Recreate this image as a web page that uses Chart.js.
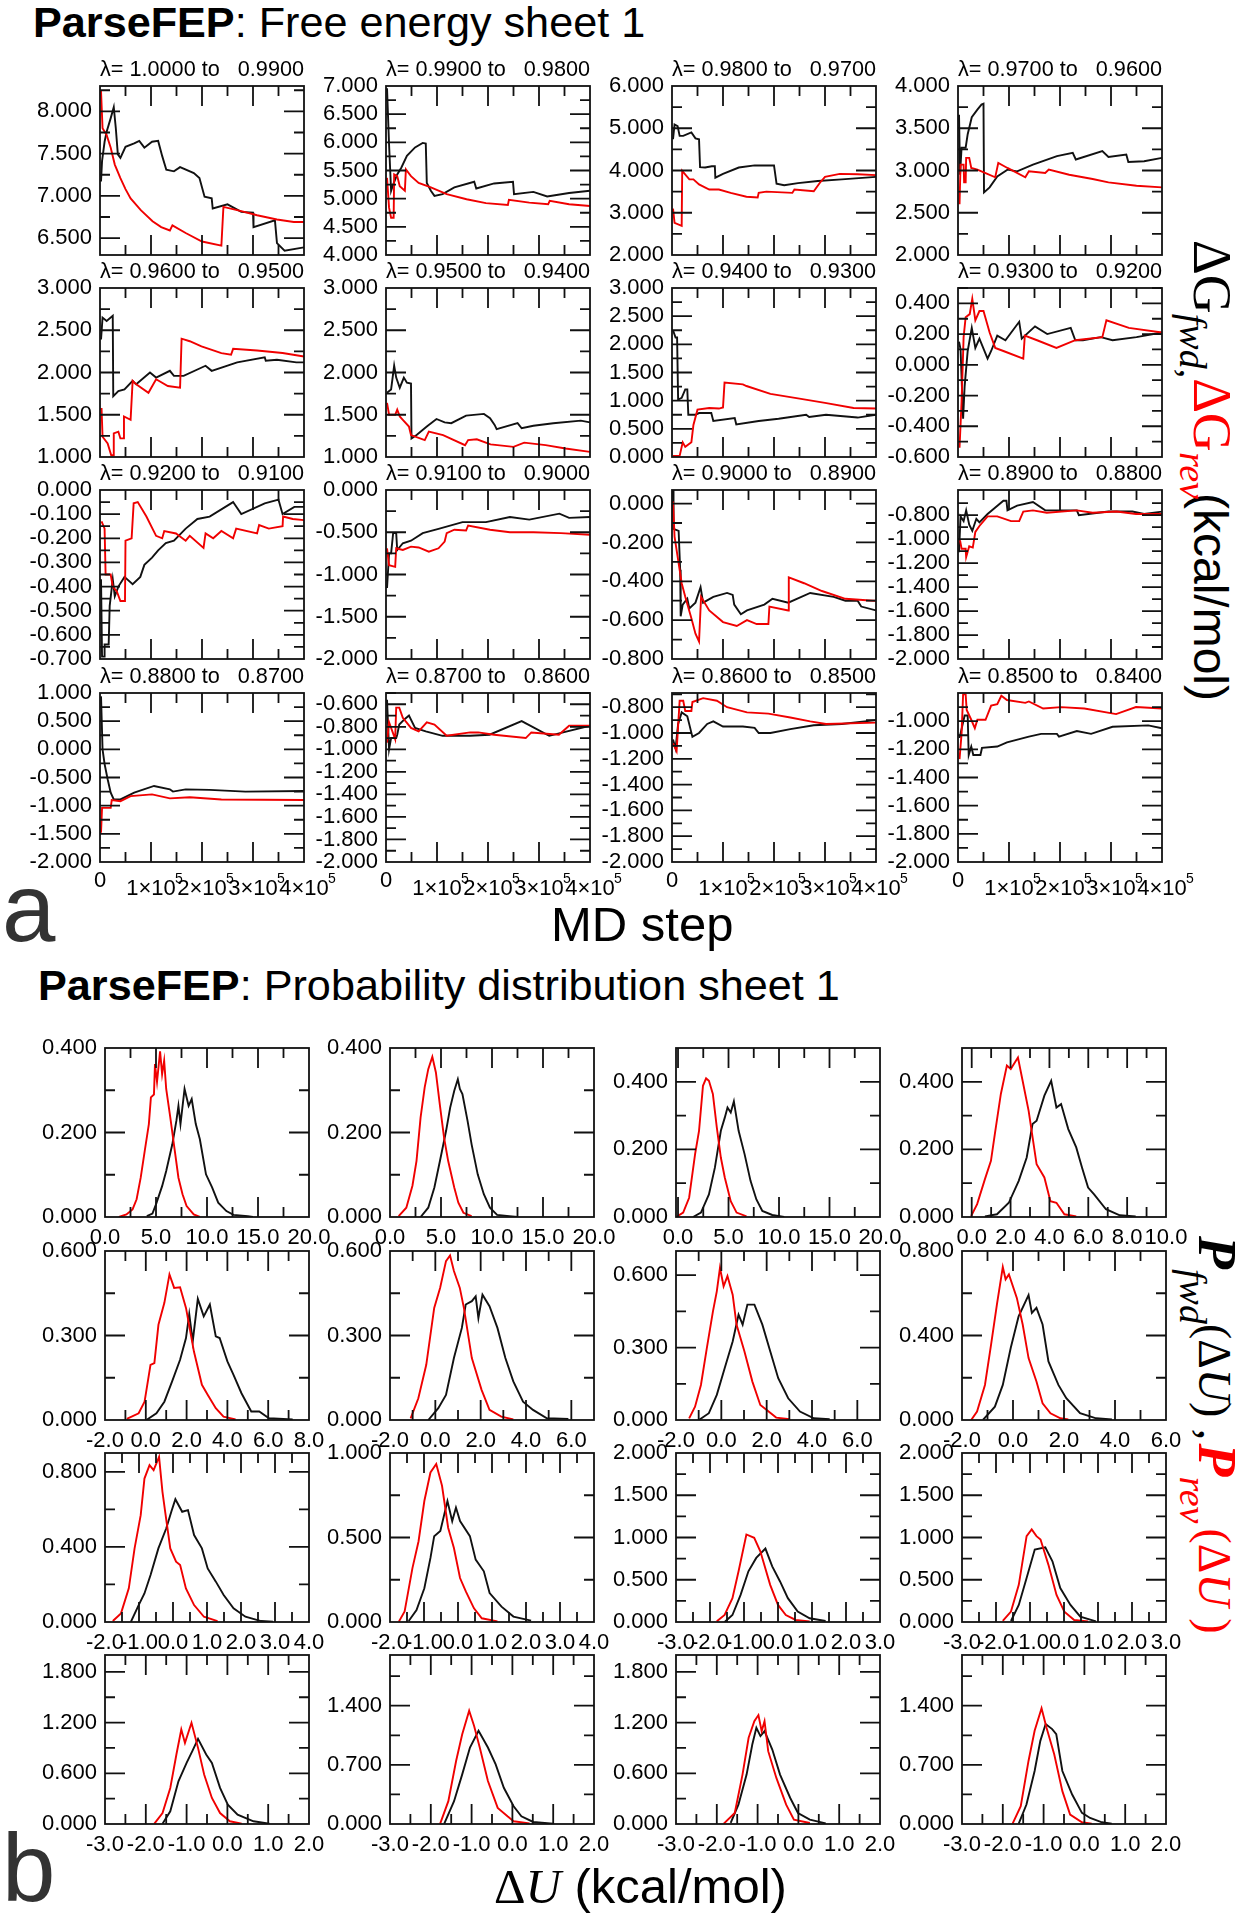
<!DOCTYPE html>
<html>
<head>
<meta charset="utf-8">
<title>ParseFEP sheets</title>
<script src="https://cdn.jsdelivr.net/npm/chart.js@4/dist/chart.umd.min.js"></script>
<style>
  html, body { margin: 0; padding: 0; background: #fff; }
  #page { position: relative; width: 1243px; height: 1920px; overflow: hidden; font-family: "Liberation Sans", sans-serif; color: #000; }
  #page canvas { position: absolute; }
  .txt { position: absolute; white-space: pre; line-height: 1; }
  .rot { transform-origin: 0 0; transform: rotate(90deg); }
  .serif { font-family: "Liberation Serif", serif; }
  .red { color: #f00; }
  .sub { font-size: 38px; position: relative; top: 14px; font-family: "Liberation Serif", serif; font-style: italic; }
</style>
</head>
<body>
<div id="page">
  <div class="txt" style="left:33px;top:1px;font-size:43.2px"><b>ParseFEP</b>: Free energy sheet 1</div>
  <div class="txt" style="left:38px;top:964px;font-size:43.2px"><b>ParseFEP</b>: Probability distribution sheet 1</div>
  <div class="txt" style="left:2px;top:860px;font-size:96px;color:#333">a</div>
  <div class="txt" style="left:2px;top:1820px;font-size:96px;color:#333">b</div>
  <div class="txt" style="left:551px;top:900px;font-size:49px">MD step</div>
  <div class="txt" style="left:494px;top:1862px;font-size:49px"><span class="serif">Δ<i>U</i></span> (kcal/mol)</div>

  <div class="txt rot" style="left:1240px;top:240px;font-size:54px"><span class="serif">ΔG</span><span class="sub">fwd<span style="font-style:normal">,</span></span><span class="serif red">ΔG</span><span class="sub red">rev</span><span style="font-size:48px;margin-left:-6px">(kcal/mol)</span></div>
  <div class="txt rot" style="left:1245px;top:1236px;font-size:54px"><span class="serif"><b><i>P</i></b></span><span class="sub" style="top:19px">fwd</span><span class="serif" style="font-size:46px">(Δ<i>U</i>) ,</span><span class="serif red" style="margin-left:3px"><b><i>P</i></b></span><span class="sub red" style="top:19px">rev</span><span class="serif red" style="font-size:46px;margin-left:5px">(Δ<i>U</i> )</span></div>
</div>

<script>
// Sheet a: free energy, x in units of 1e5 MD steps, y in kcal/mol
const feTitles = ["1.0000 to   0.9900", "0.9900 to   0.9800", "0.9800 to   0.9700", "0.9700 to   0.9600",
  "0.9600 to   0.9500", "0.9500 to   0.9400", "0.9400 to   0.9300", "0.9300 to   0.9200",
  "0.9200 to   0.9100", "0.9100 to   0.9000", "0.9000 to   0.8900", "0.8900 to   0.8800",
  "0.8800 to   0.8700", "0.8700 to   0.8600", "0.8600 to   0.8500", "0.8500 to   0.8400"];
const feXTicks = [0, 1e5, 2e5, 3e5, 4e5];
const feYMin = [6.3, 4, 2, 2, 1, 1, 0, -0.6, -0.7, -2, -0.8, -2, -2, -2, -2, -2];
const feYMax = [8.3, 7, 6, 4, 3, 3, 3, 0.5, 0, 0, 0.07, -0.59, 1, -0.5, -0.69, -0.8];
const feYTicks = [
  [6.5, 7, 7.5, 8], [4, 4.5, 5, 5.5, 6, 6.5, 7], [2, 3, 4, 5, 6], [2, 2.5, 3, 3.5, 4],
  [1, 1.5, 2, 2.5, 3], [1, 1.5, 2, 2.5, 3], [0, 0.5, 1, 1.5, 2, 2.5, 3], [-0.6, -0.4, -0.2, 0, 0.2, 0.4],
  [-0.7, -0.6, -0.5, -0.4, -0.3, -0.2, -0.1, 0], [-2, -1.5, -1, -0.5, 0], [-0.8, -0.6, -0.4, -0.2, 0], [-2, -1.8, -1.6, -1.4, -1.2, -1, -0.8],
  [-2, -1.5, -1, -0.5, 0, 0.5, 1], [-2, -1.8, -1.6, -1.4, -1.2, -1, -0.8, -0.6], [-2, -1.8, -1.6, -1.4, -1.2, -1, -0.8], [-2, -1.8, -1.6, -1.4, -1.2, -1]
];

const feFwd01 = [[.02,7.17],[.04,7.41],[.09,7.64],[.13,7.76],[.21,7.92],[.27,8.05],[.31,7.8],[.35,7.49],[.4,7.45],[.5,7.58],[.67,7.62],[.77,7.65],[.87,7.57],[1.02,7.64],[1.14,7.65],[1.22,7.47],[1.3,7.31],[1.45,7.29],[1.57,7.34],[1.84,7.27],[1.95,7.21],[2.05,6.99],[2.19,6.97],[2.21,6.85],[2.5,6.9],[2.77,6.81],[3,6.8],[3.01,6.63],[3.43,6.71],[3.47,6.44],[3.62,6.35],[4,6.39]];
const feRev01 = [[.02,8.24],[.05,7.8],[.13,7.72],[.21,7.57],[.29,7.37],[.4,7.21],[.5,7.08],[.6,6.97],[.8,6.83],[1.03,6.7],[1.2,6.63],[1.37,6.59],[1.42,6.65],[1.68,6.56],[2,6.46],[2.38,6.41],[2.42,6.87],[2.77,6.82],[3.08,6.77],[3.47,6.72],[3.8,6.69],[4,6.69]];
const feFwd02 = [[.02,6.96],[.06,5.96],[.1,5.14],[.14,5.25],[.22,5.43],[.3,5.55],[.41,5.76],[.57,5.91],[.72,5.99],[.78,5.98],[.8,5.28],[.88,5.14],[.95,5.05],[1.11,5.08],[1.34,5.2],[1.73,5.3],[1.77,5.18],[2.12,5.27],[2.49,5.3],[2.51,5.08],[2.89,5.12],[3.16,5.04],[3.59,5.1],[4,5.14]];
const feRev02 = [[.02,5.37],[.06,4.84],[.1,4.66],[.15,4.66],[.16,5.43],[.22,5.4],[.27,5.22],[.37,5.14],[.39,5.52],[.49,5.4],[.64,5.28],[.88,5.2],[1.19,5.08],[1.58,4.99],[1.96,4.92],[2.39,4.89],[2.41,4.98],[2.81,4.93],[3.18,4.9],[3.21,4.96],[3.59,4.9],[4,4.87]];
const feFwd03 = [[.02,4.74],[.05,5.09],[.11,5.05],[.15,4.82],[.22,4.82],[.38,4.9],[.46,4.76],[.53,4.74],[.55,4.08],[.65,4.07],[.78,4.1],[.84,4.1],[.85,3.83],[1,3.92],[1.31,4.07],[1.62,4.12],[2,4.12],[2.05,3.69],[2.2,3.65],[2.47,3.7],[2.86,3.75],[3.33,3.79],[4,3.85]];
const feRev03 = [[.02,3.1],[.05,2.76],[.19,2.69],[.2,3.99],[.34,3.79],[.42,3.79],[.53,3.67],[.73,3.55],[.92,3.55],[1.15,3.47],[1.46,3.38],[1.68,3.36],[1.7,3.47],[1.85,3.5],[2.36,3.47],[2.4,3.55],[2.78,3.51],[2.9,3.71],[3,3.85],[3.29,3.92],[3.64,3.91],[4,3.89]];
const feFwd04 = [[.02,3.66],[.04,2.95],[.07,3.27],[.15,3.27],[.19,3.43],[.27,3.63],[.38,3.72],[.46,3.78],[.5,3.79],[.51,2.74],[.62,2.8],[.77,2.93],[.97,3.01],[1.16,2.99],[1.47,3.07],[1.94,3.17],[2.25,3.21],[2.31,3.13],[2.83,3.23],[2.95,3.16],[3.3,3.19],[3.34,3.1],[3.65,3.11],[4,3.15]];
const feRev04 = [[.03,2.6],[.05,3.07],[.11,3.07],[.12,2.86],[.15,2.86],[.16,3.15],[.22,3.15],[.26,3.03],[.38,3.01],[.54,2.97],[.73,2.92],[.79,3.09],[.97,3.03],[1.32,2.92],[1.39,2.99],[1.71,2.97],[1.78,3.01],[2.18,2.95],[2.64,2.9],[2.95,2.86],[3.5,2.82],[4,2.8]];
const feFwd05 = [[.02,2.39],[.05,2.65],[.13,2.61],[.25,2.67],[.26,1.72],[.36,1.78],[.48,1.8],[.64,1.9],[.71,1.86],[.98,2],[1.1,1.94],[1.37,2.02],[1.45,1.96],[1.64,1.96],[2.07,2.08],[2.19,2.02],[2.69,2.12],[3.23,2.18],[3.25,2.14],[3.47,2.15],[3.85,2.12],[4,2.12]];
const feRev05 = [[.03,1.58],[.05,1.24],[.15,1.16],[.22,1.02],[.26,1.02],[.27,1.28],[.36,1.3],[.4,1.22],[.46,1.22],[.47,1.48],[.6,1.44],[.64,1.9],[.71,1.86],[.95,1.76],[1.1,1.92],[1.33,1.84],[1.57,1.82],[1.6,2.4],[1.76,2.37],[1.99,2.31],[2.38,2.23],[2.57,2.21],[2.61,2.28],[3.08,2.26],[3.58,2.23],[4,2.19]];
const feFwd06 = [[.02,1.76],[.1,1.8],[.16,2.08],[.2,1.94],[.27,1.82],[.35,1.94],[.41,1.88],[.49,1.87],[.5,1.22],[.6,1.26],[.8,1.36],[.99,1.45],[1.15,1.41],[1.28,1.4],[1.57,1.49],[1.92,1.51],[2.04,1.46],[2.13,1.38],[2.17,1.33],[2.58,1.4],[2.66,1.34],[2.89,1.37],[3.28,1.4],[3.82,1.43],[4,1.41]];
const feRev06 = [[.02,1.64],[.06,1.5],[.18,1.5],[.22,1.56],[.27,1.48],[.33,1.44],[.45,1.36],[.49,1.26],[.76,1.2],[.84,1.3],[1.12,1.26],[1.55,1.14],[1.61,1.2],[1.78,1.21],[2.05,1.15],[2.5,1.12],[2.71,1.17],[3.13,1.14],[3.52,1.1],[4,1.06]];
const feFwd07 = [[.02,2.25],[.07,2.12],[.1,2.12],[.12,1.02],[.19,1.05],[.26,1.2],[.3,1.2],[.32,.75],[.46,.75],[.53,.78],[.77,.78],[.81,.64],[1.23,.69],[1.26,.58],[1.7,.64],[2.09,.68],[2.63,.75],[2.69,.71],[3.02,.75],[3.64,.7],[4,.75]];
const feRev07 = [[.02,.02],[.15,.02],[.21,.26],[.26,.18],[.38,.26],[.42,.57],[.5,.84],[.73,.87],[.92,.86],[1,.88],[1.03,1.32],[1.39,1.29],[1.46,1.26],[1.93,1.12],[2.47,1.04],[3,.96],[3.56,.87],[4,.86]];
const feFwd08 = [[.02,.15],[.05,.1],[.1,-.35],[.13,-.14],[.19,.09],[.27,.24],[.34,.11],[.42,.17],[.58,.04],[.65,.09],[.77,.19],[.93,.16],[1.2,.28],[1.25,.17],[1.51,.25],[1.75,.2],[2.21,.24],[2.3,.16],[2.45,.16],[2.8,.18],[3.03,.16],[3.5,.18],[4,.21]];
const feRev08 = [[.03,-.54],[.07,-.24],[.11,.18],[.15,.31],[.23,.33],[.28,.43],[.34,.29],[.42,.35],[.5,.35],[.62,.21],[.73,.11],[.89,.09],[1.28,.04],[1.31,.19],[1.55,.16],[1.93,.11],[2.3,.16],[2.83,.18],[2.91,.29],[3.35,.24],[4,.21]];
const feFwd09 = [[.02,-.37],[.04,-.69],[.09,-.69],[.09,-.64],[.17,-.64],[.19,-.48],[.25,-.37],[.29,-.44],[.36,-.4],[.48,-.36],[.64,-.39],[.79,-.36],[.87,-.31],[1.02,-.28],[1.14,-.25],[1.29,-.22],[1.45,-.21],[1.68,-.16],[1.91,-.12],[2.15,-.11],[2.61,-.05],[2.77,-.1],[3.23,-.055],[3.5,-.04],[3.58,-.1],[3.81,-.07],[4,-.07]];
const feRev09 = [[.03,-.13],[.09,-.16],[.11,-.35],[.21,-.35],[.25,-.4],[.33,-.42],[.4,-.46],[.49,-.46],[.5,-.21],[.62,-.2],[.66,-.055],[.74,-.05],[.91,-.11],[1.1,-.19],[1.22,-.2],[1.26,-.17],[1.49,-.18],[1.68,-.21],[1.76,-.19],[2.03,-.24],[2.07,-.18],[2.22,-.2],[2.38,-.17],[2.61,-.2],[2.67,-.16],[3.08,-.18],[3.12,-.145],[3.31,-.16],[3.58,-.15],[3.59,-.11],[3.78,-.12],[4,-.125]];
const feFwd10 = [[.02,-1.16],[.06,-.75],[.1,-.75],[.14,-.51],[.2,-.51],[.22,-.71],[.33,-.63],[.49,-.6],[.72,-.51],[1.03,-.46],[1.5,-.38],[1.96,-.38],[2.43,-.32],[2.81,-.35],[3.4,-.28],[3.59,-.33],[4,-.32]];
const feRev10 = [[.02,-.69],[.06,-.89],[.18,-.91],[.2,-.69],[.33,-.71],[.49,-.67],[.64,-.68],[.84,-.73],[1.03,-.69],[1.15,-.61],[1.19,-.51],[1.34,-.47],[1.57,-.48],[1.61,-.42],[2.04,-.47],[2.43,-.5],[2.89,-.5],[3.43,-.51],[4,-.53]];
const feFwd11 = [[.02,.07],[.03,-.13],[.13,-.14],[.16,-.34],[.17,-.58],[.21,-.52],[.3,-.49],[.34,-.54],[.46,-.51],[.56,-.43],[.61,-.51],[.81,-.48],[1.08,-.46],[1.19,-.47],[1.22,-.52],[1.35,-.57],[1.47,-.55],[1.81,-.52],[1.97,-.49],[2.28,-.51],[2.71,-.46],[3.17,-.48],[3.4,-.5],[3.64,-.5],[3.71,-.53],[4,-.55]];
const feRev11 = [[.02,.01],[.05,-.17],[.12,-.29],[.19,-.41],[.26,-.48],[.38,-.59],[.46,-.67],[.53,-.71],[.57,-.48],[.73,-.55],[1,-.61],[1.27,-.63],[1.47,-.6],[1.66,-.62],[1.89,-.62],[1.91,-.53],[2.28,-.55],[2.29,-.38],[2.59,-.41],[2.94,-.45],[3.4,-.49],[3.95,-.5],[4,-.5]];
const feFwd12 = [[.02,-1.11],[.05,-.81],[.11,-.85],[.16,-.76],[.22,-.88],[.28,-.93],[.36,-.83],[.42,-.86],[.58,-.79],[.89,-.68],[.95,-.68],[.97,-.76],[1.16,-.72],[1.47,-.69],[1.71,-.76],[1.95,-.76],[2.33,-.76],[2.37,-.8],[2.95,-.77],[3.42,-.77],[3.65,-.79],[4,-.77]];
const feRev12 = [[.04,-1.01],[.07,-1.08],[.15,-1.08],[.16,-1.15],[.22,-1.06],[.29,-1.07],[.34,-.94],[.42,-.89],[.58,-.81],[.77,-.81],[1.04,-.85],[1.2,-.85],[1.28,-.77],[1.47,-.76],[1.74,-.78],[2.33,-.76],[2.64,-.78],[3.11,-.77],[3.49,-.79],[4,-.79]];
const feFwd13 = [[.02,.94],[.05,0],[.09,-.26],[.15,-.53],[.21,-.77],[.27,-.89],[.4,-.89],[.67,-.77],[1.06,-.65],[1.37,-.71],[1.43,-.75],[1.68,-.71],[2.15,-.72],[2.85,-.75],[4,-.74]];
const feRev13 = [[.02,-1.48],[.04,-1.04],[.21,-1.04],[.23,-.9],[.4,-.92],[.6,-.83],[1.02,-.8],[1.37,-.87],[1.76,-.85],[2.38,-.89],[4,-.9]];
const feFwd14 = [[.02,-.56],[.06,-1],[.1,-.9],[.2,-.9],[.22,-.87],[.26,-.78],[.37,-.73],[.45,-.7],[.57,-.81],[.78,-.84],[1.11,-.88],[1.65,-.88],[2.03,-.87],[2.66,-.75],[3.2,-.88],[4,-.79]];
const feRev14 = [[.02,-.94],[.06,-.76],[.18,-.91],[.2,-.63],[.26,-.63],[.33,-.72],[.49,-.81],[.64,-.84],[.8,-.76],[.95,-.78],[1.19,-.88],[1.65,-.85],[1.81,-.85],[2.12,-.87],[2.74,-.9],[2.85,-.85],[3.39,-.87],[3.59,-.79],[4,-.79]];
const feFwd15 = [[.02,-1.05],[.07,-1.12],[.12,-.93],[.19,-.84],[.3,-.87],[.4,-1.03],[.53,-1],[.69,-.93],[.81,-.91],[1,-.95],[1.39,-.95],[1.62,-.96],[1.7,-1],[1.93,-1],[2.32,-.97],[2.78,-.94],[3.33,-.93],[4,-.9]];
const feRev15 = [[.02,-1.08],[.09,-1.14],[.15,-.75],[.22,-.75],[.26,-.83],[.38,-.83],[.4,-.76],[.61,-.73],[.88,-.75],[1.08,-.8],[1.47,-.84],[1.89,-.85],[2.32,-.88],[2.71,-.91],[3.02,-.93],[4,-.92]];
const feFwd16 = [[.03,-1.12],[.13,-.96],[.19,-.96],[.21,-1.24],[.26,-1.18],[.3,-1.24],[.44,-1.24],[.47,-1.19],[.77,-1.18],[.96,-1.15],[1.39,-1.11],[1.63,-1.09],[1.94,-1.09],[1.98,-1.11],[2.33,-1.07],[2.61,-1.09],[3.03,-1.04],[3.73,-1.03],[4,-1.05]];
const feRev16 = [[.03,-1.27],[.07,-1.09],[.1,-.81],[.15,-.81],[.17,-.92],[.26,-.99],[.33,-1.05],[.38,-.99],[.54,-.99],[.65,-.89],[.77,-.88],[.85,-.82],[.96,-.85],[1.32,-.87],[1.39,-.86],[1.67,-.91],[2.02,-.9],[2.48,-.91],[3.1,-.95],[3.49,-.9],[4,-.91]];

const feFwd = [feFwd01, feFwd02, feFwd03, feFwd04, feFwd05, feFwd06, feFwd07, feFwd08, feFwd09, feFwd10, feFwd11, feFwd12, feFwd13, feFwd14, feFwd15, feFwd16];
const feRev = [feRev01, feRev02, feRev03, feRev04, feRev05, feRev06, feRev07, feRev08, feRev09, feRev10, feRev11, feRev12, feRev13, feRev14, feRev15, feRev16];

// Sheet b: probability distributions, x = delta U in kcal/mol, y = probability
const pdXMin = [0, 0, -0.2, -0.5, -2, -2, -2, -2, -2, -2, -3, -3, -3, -3, -3, -3];
const pdXMax = [20, 20, 20, 10, 8, 7, 7, 6, 4, 4, 3, 3, 2, 2, 2, 2];
const pdXTicks = [
  [0, 5, 10, 15, 20], [0, 5, 10, 15, 20], [0, 5, 10, 15, 20], [0, 2, 4, 6, 8, 10],
  [-2, 0, 2, 4, 6, 8], [-2, 0, 2, 4, 6], [-2, 0, 2, 4, 6], [-2, 0, 2, 4, 6],
  [-2, -1, 0, 1, 2, 3, 4], [-2, -1, 0, 1, 2, 3, 4], [-3, -2, -1, 0, 1, 2, 3], [-3, -2, -1, 0, 1, 2, 3],
  [-3, -2, -1, 0, 1, 2], [-3, -2, -1, 0, 1, 2], [-3, -2, -1, 0, 1, 2], [-3, -2, -1, 0, 1, 2]
];
const pdYMax = [0.4, 0.4, 0.5, 0.5, 0.6, 0.6, 0.7, 0.8, 0.9, 1, 2, 2, 2, 2, 2, 2];
const pdYTicks = [
  [0, 0.2, 0.4], [0, 0.2, 0.4], [0, 0.2, 0.4], [0, 0.2, 0.4],
  [0, 0.3, 0.6], [0, 0.3, 0.6], [0, 0.3, 0.6], [0, 0.4, 0.8],
  [0, 0.4, 0.8], [0, 0.5, 1], [0, 0.5, 1, 1.5, 2], [0, 0.5, 1, 1.5, 2],
  [0, 0.6, 1.2, 1.8], [0, 0.7, 1.4], [0, 0.6, 1.2, 1.8], [0, 0.7, 1.4]
];

const pdRev01 = [[1.36,0],[2.1,.006],[2.7,.018],[3.1,.042],[3.5,.093],[3.9,.157],[4.3,.22],[4.5,.283],[4.8,.29],[4.9,.362],[5.1,.32],[5.4,.392],[5.6,.338],[5.8,.37],[6,.303],[6.4,.236],[6.8,.164],[7.2,.093],[7.6,.054],[8,.026],[8.7,.006],[9.3,0]];
const pdFwd01 = [[4.1,.002],[4.65,.008],[5,.03],[5.6,.073],[6,.109],[6.6,.172],[7,.228],[7.2,.263],[7.4,.22],[7.8,.303],[8.2,.263],[8.5,.279],[8.9,.22],[9.3,.184],[9.9,.101],[10.5,.07],[11.1,.034],[11.9,.014],[12.6,.005],[14,.002],[14.5,0]];
const pdRev02 = [[.85,.002],[1.6,.022],[2.2,.074],[2.6,.133],[3,.236],[3.4,.307],[3.75,.35],[4.15,.379],[4.5,.342],[4.9,.263],[5.3,.188],[5.7,.133],[6.3,.07],[6.7,.034],[7.2,.01],[8,.002]];
const pdFwd02 = [[3,0],[3.75,.022],[4.35,.07],[4.9,.133],[5.5,.204],[5.9,.259],[6.3,.299],[6.65,.326],[6.85,.303],[7.1,.291],[7.6,.228],[8,.172],[8.6,.101],[9.2,.054],[9.8,.022],[10.5,.005],[11.7,.002],[12.5,0]];
const pdRev03 = [[-.08,.002],[.51,.013],[1.1,.057],[1.69,.186],[2.08,.255],[2.47,.388],[2.78,.41],[3.06,.403],[3.45,.364],[3.84,.265],[4.24,.176],[4.63,.117],[5.22,.047],[5.8,.013],[6.78,.002]];
const pdFwd03 = [[1.49,0],[2.27,.013],[3.06,.067],[3.65,.146],[4.24,.255],[4.63,.294],[4.9,.324],[5.22,.309],[5.53,.342],[6,.255],[6.59,.186],[7.18,.107],[7.76,.052],[8.35,.018],[9.33,.006],[10.51,0]];
const pdRev04 = [[-.03,.003],[.28,.038],[.68,.112],[.99,.166],[1.19,.245],[1.5,.364],[1.81,.448],[2.01,.438],[2.38,.472],[2.62,.403],[2.93,.314],[3.34,.156],[3.74,.117],[4.05,.047],[4.36,.042],[4.77,.008],[5.38,.002]];
const pdFwd04 = [[.68,.002],[1.3,.008],[1.91,.042],[2.42,.107],[2.83,.176],[3.13,.275],[3.34,.285],[3.74,.359],[4.09,.403],[4.36,.324],[4.6,.334],[4.97,.26],[5.38,.206],[5.68,.146],[5.99,.087],[6.3,.067],[6.91,.023],[7.62,.005],[8.44,.002]];
const pdRev05 = [[-.93,.004],[-.35,.024],[-.06,.065],[.23,.196],[.42,.202],[.62,.338],[.91,.416],[1.16,.517],[1.39,.469],[1.68,.471],[1.97,.398],[2.36,.243],[2.75,.125],[3.04,.089],[3.43,.042],[3.81,.012],[4.4,.002]];
const pdFwd05 = [[.03,0],[.52,.024],[.91,.065],[1.29,.137],[1.68,.214],[1.97,.291],[2.13,.376],[2.3,.279],[2.55,.43],[2.84,.368],[3.14,.41],[3.43,.297],[3.62,.291],[4,.208],[4.3,.16],[4.69,.095],[5.17,.03],[5.56,.03],[6.04,.006],[7.2,.002]];
const pdRev06 = [[-1.09,.006],[-.75,.077],[-.4,.196],[-.05,.398],[.21,.469],[.47,.564],[.65,.584],[.82,.529],[1.08,.469],[1.26,.398],[1.61,.22],[2.04,.107],[2.39,.036],[2.91,.012],[3.44,.002]];
const pdFwd06 = [[-.31,0],[.13,.042],[.47,.089],[.82,.22],[1.17,.327],[1.34,.41],[1.61,.422],[1.78,.439],[1.9,.362],[2.08,.445],[2.39,.404],[2.74,.327],[3.09,.22],[3.44,.137],[3.87,.065],[4.31,.036],[4.92,.006],[5.87,.004]];
const pdRev07 = [[-1.42,.007],[-1.16,.055],[-.9,.145],[-.64,.298],[-.37,.45],[-.2,.533],[-.06,.63],[.1,.554],[.27,.596],[.5,.519],[.67,.395],[1.02,.284],[1.37,.159],[1.72,.062],[1.99,.042],[2.42,.01],[3.03,.003]];
const pdFwd07 = [[-.99,0],[-.55,.028],[-.2,.104],[.15,.215],[.5,.325],[.76,.436],[.94,.395],[1.15,.478],[1.46,.478],[1.81,.395],[2.16,.284],[2.51,.173],[2.95,.09],[3.47,.035],[4.08,.007],[4.78,.003]];
const pdRev08 = [[-1.64,0],[-1.41,.04],[-1.1,.166],[-.86,.357],[-.63,.547],[-.4,.724],[-.29,.666],[-.16,.689],[.15,.578],[.38,.452],[.61,.293],[.92,.182],[1.16,.079],[1.47,.032],[1.86,.008],[2.17,.003]];
const pdFwd08 = [[-1.18,0],[-.71,.063],[-.4,.166],[-.09,.341],[.22,.491],[.61,.591],[.74,.507],[.92,.531],[1.16,.452],[1.39,.277],[1.78,.166],[2.09,.103],[2.63,.032],[3.26,.008],[3.88,.003]];
const pdRev09 = [[-1.77,.005],[-1.53,.046],[-1.3,.179],[-1.13,.392],[-.95,.569],[-.84,.764],[-.69,.835],[-.57,.809],[-.41,.879],[-.31,.693],[-.23,.587],[-.08,.392],[.09,.321],[.21,.303],[.38,.179],[.62,.09],[.91,.028],[1.31,.005]];
const pdFwd09 = [[-1.24,0],[-1.01,.09],[-.84,.152],[-.66,.25],[-.43,.392],[-.2,.498],[-.05,.587],[.07,.654],[.27,.587],[.44,.596],[.62,.463],[.85,.392],[1.02,.285],[1.26,.215],[1.49,.144],[1.78,.073],[2.13,.028],[2.59,.005],[2.94,.002]];
const pdRev10 = [[-1.74,.002],[-1.57,.062],[-1.34,.319],[-1.16,.478],[-.99,.716],[-.81,.885],[-.64,.935],[-.47,.806],[-.29,.558],[-.12,.438],[.06,.26],[.23,.181],[.47,.081],[.7,.022],[1.16,.004]];
const pdFwd10 = [[-1.45,.006],[-1.22,.071],[-.99,.2],[-.81,.379],[-.7,.508],[-.52,.538],[-.31,.716],[-.17,.597],[-.06,.677],[.06,.597],[.35,.508],[.52,.369],[.76,.3],[.93,.171],[1.28,.091],[1.63,.032],[2.15,.008]];
const pdRev11 = [[-1.8,.008],[-1.57,.083],[-1.34,.282],[-1.16,.6],[-.93,1.036],[-.7,.996],[-.52,.837],[-.23,.44],[0,.202],[.23,.083],[.52,.024],[.93,.008]];
const pdFwd11 = [[-1.57,0],[-1.34,.083],[-1.1,.321],[-.87,.6],[-.64,.758],[-.37,.869],[-.17,.659],[.06,.48],[.29,.282],[.58,.123],[.93,.044],[1.4,.012]];
const pdRev12 = [[-1.8,.012],[-1.56,.123],[-1.33,.44],[-1.1,1.016],[-.95,1.095],[-.81,1.016],[-.69,.976],[-.46,.679],[-.22,.321],[.01,.123],[.3,.024],[.71,.008]];
const pdFwd12 = [[-1.56,.012],[-1.33,.202],[-1.1,.52],[-.86,.857],[-.55,.885],[-.34,.718],[-.11,.401],[.19,.202],[.48,.063],[.94,.008]];
const pdRev13 = [[-1.79,.004],[-1.59,.13],[-1.4,.427],[-1.25,.822],[-1.13,1.119],[-1.04,.96],[-.88,1.198],[-.72,.901],[-.57,.585],[-.38,.308],[-.18,.13],[.06,.032],[.35,.004]];
const pdFwd13 = [[-1.59,.004],[-1.4,.15],[-1.2,.506],[-1,.723],[-.86,.862],[-.72,1.008],[-.52,.822],[-.38,.723],[-.18,.427],[.01,.229],[.25,.111],[.64,.032],[1.03,.004]];
const pdRev14 = [[-1.77,.004],[-1.57,.27],[-1.38,.746],[-1.23,1.063],[-1.06,1.341],[-.94,1.163],[-.8,.905],[-.6,.508],[-.36,.19],[-.12,.091],[.03,.032],[.42,.008]];
const pdFwd14 = [[-1.67,.004],[-1.43,.27],[-1.23,.587],[-1.04,.905],[-.83,1.103],[-.6,.905],[-.41,.706],[-.21,.429],[.03,.21],[.22,.091],[.51,.024],[1,.004]];
const pdRev15 = [[-1.83,.004],[-1.56,.13],[-1.37,.585],[-1.22,1.02],[-1.08,1.217],[-.98,1.289],[-.9,1.099],[-.83,1.217],[-.74,.862],[-.54,.545],[-.3,.229],[-.11,.051],[.28,.012]];
const pdFwd15 = [[-1.66,.012],[-1.47,.229],[-1.27,.585],[-1.13,.941],[-1.03,1.138],[-.93,1.04],[-.83,1.099],[-.64,.881],[-.45,.585],[-.2,.308],[-.01,.13],[.28,.051],[.67,.008]];
const pdRev16 = [[-1.76,.004],[-1.56,.21],[-1.37,.746],[-1.22,1.103],[-1.05,1.369],[-.93,1.143],[-.74,.825],[-.54,.389],[-.35,.111],[-.06,.02],[.18,.004]];
const pdFwd16 = [[-1.61,.004],[-1.42,.23],[-1.22,.627],[-1.08,.984],[-.95,1.183],[-.79,1.123],[-.69,1.063],[-.54,.627],[-.3,.349],[-.06,.131],[.14,.071],[.43,.02],[.67,.004]];

const pdFwd = [pdFwd01, pdFwd02, pdFwd03, pdFwd04, pdFwd05, pdFwd06, pdFwd07, pdFwd08, pdFwd09, pdFwd10, pdFwd11, pdFwd12, pdFwd13, pdFwd14, pdFwd15, pdFwd16];
const pdRev = [pdRev01, pdRev02, pdRev03, pdRev04, pdRev05, pdRev06, pdRev07, pdRev08, pdRev09, pdRev10, pdRev11, pdRev12, pdRev13, pdRev14, pdRev15, pdRev16];

// panel box layout (page pixels)
const feCols = [100, 386, 672, 958];
const feRows = [86, 288, 490, 693];
const pdCols = [105, 390, 676, 962];
const pdRows = [1048, 1251, 1453, 1655];
const panelW = 204;
const panelH = 169;
const mLeft = 70, mRight = 45, mTop = 27, mBottom = 45;
const titlePad = 5;
const tickFont = '22px "Liberation Sans"';

// major ticks get 20px, the half-way minors 10px
function eachTick(majors, scale, draw) {
  const step = majors[1] - majors[0];
  majors.forEach((v) => {
    if (v > scale.min && v < scale.max) draw(v, 20);
  });
  for (let k = -1; k < majors.length + 40; k++) {
    const v = majors[0] + (k + 0.5) * step;
    if (v > scale.min && v < scale.max) draw(v, 10);
  }
}

// xmgrace style: frame, ticks pointing in on all four sides
const graceFrame = {
  id: "graceFrame",
  afterDatasetsDraw(chart, args, opts) {
    const ctx = chart.ctx, a = chart.chartArea, sx = chart.scales.x, sy = chart.scales.y;
    ctx.save();
    ctx.strokeStyle = "#111";
    ctx.lineWidth = 1.8;
    ctx.strokeRect(a.left, a.top, a.right - a.left, a.bottom - a.top);
    ctx.beginPath();
    const doX = (v, len) => {
      const p = sx.getPixelForValue(v);
      ctx.moveTo(p, a.bottom); ctx.lineTo(p, a.bottom - len);
      ctx.moveTo(p, a.top); ctx.lineTo(p, a.top + len);
    };
    const doY = (v, len) => {
      const p = sy.getPixelForValue(v);
      ctx.moveTo(a.left, p); ctx.lineTo(a.left + len, p);
      ctx.moveTo(a.right, p); ctx.lineTo(a.right - len, p);
    };
    eachTick(opts.xTicks, sx, doX);
    eachTick(opts.yTicks, sy, doY);
    ctx.stroke();

    // bottom row of sheet a: 1x10^5 style labels
    if (opts.mdLabels) {
      ctx.fillStyle = "#000";
      ctx.textBaseline = "middle";
      ctx.textAlign = "center";
      opts.xTicks.forEach((v) => {
        const p = sx.getPixelForValue(v);
        ctx.font = tickFont;
        if (v === 0) {
          ctx.fillText("0", p, a.bottom + 19);
        } else {
          ctx.fillText((v / 1e5) + "×10", p, a.bottom + 27);
          ctx.font = '14px "Liberation Sans"';
          ctx.fillText("5", p + 28, a.bottom + 17);
        }
      });
    }
    ctx.restore();
  }
};

function makePanel(left, top, cfg) {
  const canvas = document.createElement("canvas");
  canvas.width = panelW + mLeft + mRight;
  canvas.height = panelH + mTop + mBottom;
  canvas.style.left = (left - mLeft) + "px";
  canvas.style.top = (top - mTop) + "px";
  document.getElementById("page").appendChild(canvas);

  const toXY = (s) => s.map((p) => ({ x: p[0], y: p[1] }));
  new Chart(canvas, {
    type: "line",
    data: {
      datasets: [
        { label: "rev", data: toXY(cfg.rev), borderColor: "#f00000", borderWidth: 1.9, pointRadius: 0, tension: 0 },
        { label: "fwd", data: toXY(cfg.fwd), borderColor: "#111", borderWidth: 1.9, pointRadius: 0, tension: 0 }
      ]
    },
    plugins: [graceFrame],
    options: {
      responsive: false,
      animation: false,
      devicePixelRatio: 1,
      layout: { padding: { left: 0, right: mRight, top: cfg.title ? 0 : mTop, bottom: 0 } },
      plugins: {
        legend: { display: false },
        tooltip: { enabled: false },
        title: {
          display: !!cfg.title,
          text: cfg.title,
          align: "start",
          fullSize: false,
          color: "#000",
          font: { family: "Liberation Sans", size: 22, weight: "normal", lineHeight: 1 },
          padding: { top: 0, bottom: titlePad }
        },
        graceFrame: { xTicks: cfg.xTicks, yTicks: cfg.yTicks, mdLabels: cfg.mdLabels }
      },
      scales: {
        x: {
          type: "linear",
          min: cfg.xMin,
          max: cfg.xMax,
          grid: { display: false, drawTicks: false },
          border: { display: false },
          afterBuildTicks: (s) => { s.ticks = cfg.xTicks.map((v) => ({ value: v })); },
          afterFit: (s) => { s.height = mBottom; s.paddingLeft = 0; s.paddingRight = 0; },
          ticks: {
            display: !cfg.mdLabels && !cfg.noXLabels,
            autoSkip: false,
            maxRotation: 0,
            minRotation: 0,
            padding: 8,
            color: "#000",
            font: { family: "Liberation Sans", size: 22 },
            callback: (v) => v.toFixed(1)
          }
        },
        y: {
          type: "linear",
          min: cfg.yMin,
          max: cfg.yMax,
          grid: { display: false, drawTicks: false },
          border: { display: false },
          afterBuildTicks: (s) => { s.ticks = cfg.yTicks.map((v) => ({ value: v })); },
          afterFit: (s) => { s.width = mLeft; s.paddingTop = 0; s.paddingBottom = 0; },
          ticks: {
            autoSkip: false,
            padding: 8,
            color: "#000",
            font: { family: "Liberation Sans", size: 22 },
            callback: (v) => v.toFixed(3)
          }
        }
      }
    }
  });
}

// sheet a
feFwd.forEach((fwd, i) => {
  const r = Math.floor(i / 4), c = i % 4;
  makePanel(feCols[c], feRows[r], {
    fwd: fwd.map((p) => [p[0] * 1e5, p[1]]),
    rev: feRev[i].map((p) => [p[0] * 1e5, p[1]]),
    title: "λ= " + feTitles[i],
    xMin: 0, xMax: 4e5,
    xTicks: feXTicks,
    yMin: feYMin[i], yMax: feYMax[i],
    yTicks: feYTicks[i],
    mdLabels: r === 3,
    noXLabels: r !== 3
  });
});

// sheet b
pdFwd.forEach((fwd, i) => {
  const r = Math.floor(i / 4), c = i % 4;
  makePanel(pdCols[c], pdRows[r], {
    fwd: fwd,
    rev: pdRev[i],
    xMin: pdXMin[i], xMax: pdXMax[i],
    xTicks: pdXTicks[i],
    yMin: 0, yMax: pdYMax[i],
    yTicks: pdYTicks[i]
  });
});
</script>
</body>
</html>
